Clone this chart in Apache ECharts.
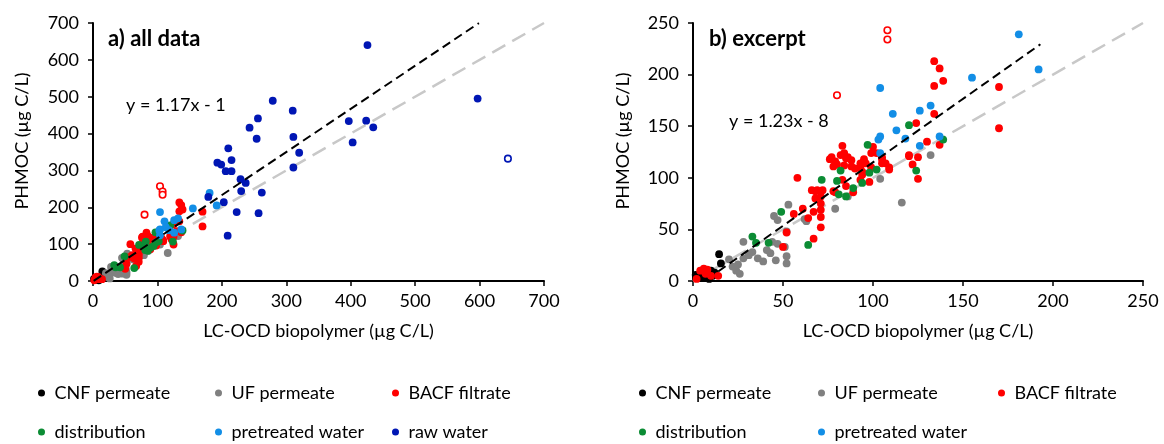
<!DOCTYPE html>
<html>
<head>
<meta charset="utf-8">
<script src="https://cdn.jsdelivr.net/npm/echarts@6/dist/echarts.min.js"></script>
<style>
  html, body { margin: 0; padding: 0; background: #fff; }
  #chart { width: 1164px; height: 444px; }
</style>
</head>
<body>
<div id="chart"></div>
<script>
  // values, [LC-OCD biopolymer, PHMOC] in µg C/L
  var cnfPermeate = [[14.5, 26], [15.5, 17], [1.5, 6], [3, 5], [5, 3], [8, 4], [10, 10], [12, 8], [9, 2], [11, 5], [6, 8]]
  var ufPermeate = [[132, 122], [104, 99], [116, 76], [79, 70], [86, 82], [53, 74], [45, 63], [47, 59], [62, 60], [63, 58],
    [52, 48], [28, 38], [20, 21], [22, 14], [26, 7], [24, 10], [28, 22], [33, 28], [36, 22], [39, 19], [41, 30], [43, 27],
    [46, 20], [47, 36], [44, 38], [52, 24], [52, 17], [51, 33], [25, 16], [31, 25]]
  var bacfFiltrate = [[2, 2], [4, 10], [6, 12], [7, 7], [8, 11], [10, 5], [14, 5],
    [50, 33], [52, 47], [67, 41], [64, 61], [56, 65], [61, 70], [67, 67], [58, 100],
    [66, 88], [68, 87], [69, 88], [72, 88], [68, 80], [71, 82], [71, 75], [71, 69], [71, 62], [71, 52],
    [78, 87], [79, 86], [83, 98], [85, 92], [89, 86],
    [76, 118], [77, 120], [78, 111], [79, 116], [80, 113], [82, 122], [83, 131], [84, 112], [84, 124], [85, 119], [86, 120],
    [88, 111], [88, 117], [90, 109], [93, 98], [93, 110], [93, 114], [94, 103], [94, 106], [95, 118], [96, 114], [98, 96],
    [99, 110], [99, 124], [100, 130], [102, 124], [105, 114], [105, 118], [105, 120], [107, 114], [109, 108], [109, 110],
    [120, 121], [120, 122], [122, 113], [124, 153], [125, 99], [125, 120], [130, 135], [134, 162], [134, 189], [134, 213],
    [137, 132], [137, 206], [139, 194], [170, 148], [170, 188]]
  var bacfExcluded = [[80, 180], [104, 257], [108, 243], [108, 234]]
  var distribution = [[120, 151], [97, 132], [82, 107], [102, 108], [98, 105], [124, 107], [139, 137], [71.5, 98], [80, 97],
    [81, 84], [85, 82], [89, 90], [94, 95], [49, 67], [33, 43], [35, 37], [42, 37], [64, 35]]
  var pretreatedWater = [[181, 239], [192, 205], [155, 197], [104, 187], [111, 162], [126, 165], [132, 170], [113, 146],
    [118, 138], [104, 140], [103, 137], [104, 124], [126, 131], [137, 140]]
  var rawWater = [[426, 640], [597, 495], [279, 489], [310, 462], [256, 441], [243, 416], [254, 386], [311, 391], [320, 348],
    [311, 308], [397, 434], [424, 435], [435, 417], [403, 376], [210, 360], [193, 321], [199, 316], [215, 328], [206, 298],
    [215, 298], [229, 276], [237, 266], [230, 244], [262, 240], [179, 228], [203, 214], [223, 187], [257, 184], [209, 123]]
  var rawExcluded = [[644, 332]]

  // regression lines: [slope, intercept] and the x range they were drawn over
  var fitA = [1.17, -1]
  var fitRangeA = [1, 599]
  var fitB = [1.23, -8]
  var fitRangeB = [14, 193]
  var axisMaxA = 700
  var axisMaxB = 250

  var FONT = 'Lato'
  var COLORS = {
    'CNF permeate': '#000000',
    'UF permeate': '#808080',
    'BACF filtrate': '#ff0000',
    'distribution': '#0b8c34',
    'pretreated water': '#128ee6',
    'raw water': '#0016b4'
  }

  var chart = echarts.init(document.getElementById('chart'))

  function dots(name, data, idx, hollow) {
    var color = COLORS[name]
    return {
      name: hollow ? name + ' (excluded)' : name,
      type: 'scatter',
      xAxisIndex: idx,
      yAxisIndex: idx,
      symbol: 'circle',
      symbolSize: hollow ? 6.5 : 7.8,
      itemStyle: hollow
        ? {color: '#fff', borderColor: color, borderWidth: 1.6, opacity: 1}
        : {color: color, opacity: 1},
      data: data,
      z: 3
    }
  }

  function fitLine(coef, range, idx, style, z) {
    return {
      type: 'line',
      xAxisIndex: idx,
      yAxisIndex: idx,
      symbol: 'none',
      silent: true,
      lineStyle: style,
      data: range.map(function (x) {
        return [x, coef[0] * x + coef[1]]
      }),
      z: z
    }
  }

  function xAxis(idx, max, interval) {
    return {
      type: 'value',
      gridIndex: idx,
      min: 0,
      max: max,
      interval: interval,
      name: 'LC-OCD biopolymer (µg C/L)',
      nameLocation: 'middle',
      nameGap: 41,
      nameTextStyle: {color: '#000', fontSize: 18, fontFamily: FONT},
      axisLine: {lineStyle: {color: '#000', width: 2}},
      axisTick: {length: 5, lineStyle: {color: '#000', width: 1.5}},
      axisLabel: {color: '#000', fontSize: 18, fontFamily: FONT, margin: 11},
      splitLine: {show: false}
    }
  }

  function yAxis(idx, max, interval, gap) {
    return {
      type: 'value',
      gridIndex: idx,
      min: 0,
      max: max,
      interval: interval,
      name: 'PHMOC (µg C/L)',
      nameLocation: 'middle',
      nameGap: gap,
      nameTextStyle: {color: '#000', fontSize: 18, fontFamily: FONT, padding: [0, 0, 0, 22]},
      axisLine: {lineStyle: {color: '#000', width: 2}},
      axisTick: {length: 5, lineStyle: {color: '#000', width: 1.5}},
      axisLabel: {color: '#000', fontSize: 18, fontFamily: FONT, margin: 14},
      splitLine: {show: false}
    }
  }

  var greyDash = {color: '#c8c8c8', width: 2.5, type: [15, 8]}
  var blackDash = {color: '#000', width: 2, type: [9, 5]}

  var series = [
    fitLine([1, 0], [0, axisMaxA], 0, greyDash, 1),
    dots('CNF permeate', cnfPermeate, 0),
    dots('UF permeate', ufPermeate, 0),
    dots('BACF filtrate', bacfFiltrate, 0),
    dots('BACF filtrate', bacfExcluded, 0, true),
    dots('distribution', distribution, 0),
    dots('pretreated water', pretreatedWater, 0),
    dots('raw water', rawWater, 0),
    dots('raw water', rawExcluded, 0, true),
    fitLine(fitA, fitRangeA, 0, blackDash, 5),

    fitLine([1, 0], [0, axisMaxB], 1, greyDash, 1),
    dots('CNF permeate', cnfPermeate, 1),
    dots('UF permeate', ufPermeate, 1),
    dots('BACF filtrate', bacfFiltrate, 1),
    dots('BACF filtrate', bacfExcluded, 1, true),
    dots('distribution', distribution, 1),
    dots('pretreated water', pretreatedWater, 1),
    fitLine(fitB, fitRangeB, 1, blackDash, 5)
  ]

  // one legend per entry so the columns line up like in the figure
  var legendSlots = [
    ['CNF permeate', 38, 384], ['UF permeate', 215, 384], ['BACF filtrate', 392, 384],
    ['distribution', 38, 423], ['pretreated water', 215, 423], ['raw water', 392, 423],
    ['CNF permeate', 639, 384], ['UF permeate', 818, 384], ['BACF filtrate', 998, 384],
    ['distribution', 639, 423], ['pretreated water', 818, 423]
  ]
  var legends = legendSlots.map(function (s) {
    return {
      data: [s[0]],
      left: s[1],
      top: s[2],
      padding: 0,
      icon: 'circle',
      itemWidth: 16,
      itemHeight: 7,
      selectedMode: false,
      textStyle: {color: '#000', fontSize: 18, fontFamily: FONT}
    }
  })

  chart.setOption({
    animation: false,
    title: [
      {text: 'a) all data', left: 108, top: 28, padding: 0,
        textStyle: {fontSize: 22, fontWeight: 'bold', color: '#000', fontFamily: FONT}},
      {text: 'b) excerpt', left: 709, top: 28, padding: 0,
        textStyle: {fontSize: 22, fontWeight: 'bold', color: '#000', fontFamily: FONT}},
      {text: 'y = 1.17x - 1', left: 126, top: 96, padding: 0,
        textStyle: {fontSize: 18, fontWeight: 'normal', color: '#000', fontFamily: FONT}},
      {text: 'y = 1.23x - 8', left: 729, top: 112, padding: 0,
        textStyle: {fontSize: 18, fontWeight: 'normal', color: '#000', fontFamily: FONT}}
    ],
    legend: legends,
    grid: [
      {left: 93, top: 23, width: 451, height: 258},
      {left: 693, top: 23, width: 450, height: 258}
    ],
    xAxis: [xAxis(0, axisMaxA, 100), xAxis(1, axisMaxB, 50)],
    yAxis: [yAxis(0, axisMaxA, 100, 62), yAxis(1, axisMaxB, 50, 61)],
    series: series
  })
</script>
</body>
</html>
